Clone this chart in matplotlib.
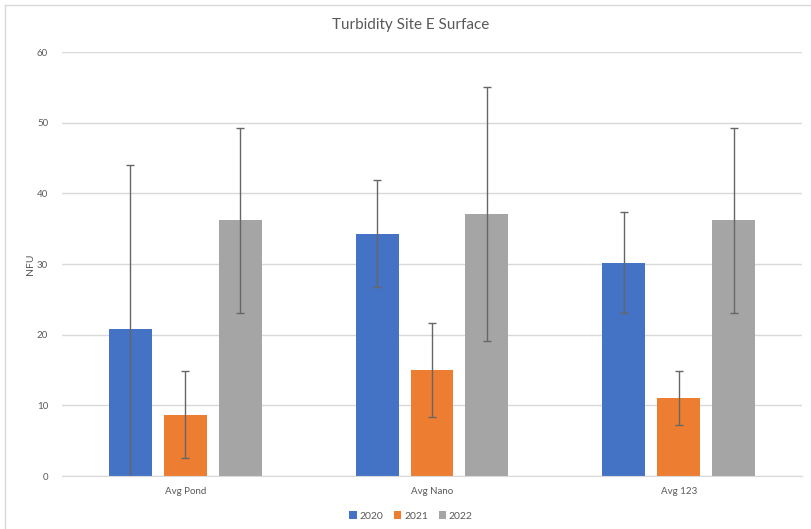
import matplotlib
matplotlib.use("Agg")
import matplotlib.pyplot as plt
import numpy as np
from matplotlib.lines import Line2D

categories = ["Avg Pond", "Avg Nano", "Avg 123"]
years = ["2020", "2021", "2022"]
values_2020 = [20.8, 34.3, 30.2]
values_2021 = [8.7, 15.0, 11.0]
values_2022 = [36.2, 37.1, 36.2]
err_2020 = [23.2, 7.55, 7.2]
err_2021 = [6.2, 6.7, 3.85]
err_2022 = [13.1, 17.95, 13.1]
colors = ["#4472C4", "#ED7D31", "#A5A5A5"]

plt.rcParams['font.family'] = ['Lato', 'DejaVu Sans']
txt = "#595959"

fig = plt.figure(figsize=(8.12, 5.29), dpi=100)
# light frame lines (left and top only visible in the reference)
fig.lines.append(Line2D([5/812, 5/812], [0, 1-5/529], transform=fig.transFigure,
                        color="#d9d9d9", lw=1))
fig.lines.append(Line2D([5/812, 1], [1-5/529, 1-5/529], transform=fig.transFigure,
                        color="#d9d9d9", lw=1))
ax = fig.add_axes([62/812, 1-476/529, 740/812, 424/529])

x = np.arange(len(categories))
w = 0.174
off = 0.2227
series = [values_2020, values_2021, values_2022]
errs = [err_2020, err_2021, err_2022]
for i, (vals, e, c, lab) in enumerate(zip(series, errs, colors, years)):
    ax.bar(x + (i-1)*off, vals, w, color=c, label=lab, zorder=2)
    ax.errorbar(x + (i-1)*off, vals, yerr=e, fmt='none', ecolor="#666666",
                elinewidth=1.0, capsize=2.6, capthick=1.0, zorder=3)

ax.set_xlim(-0.5, 2.5)
ax.set_ylim(0, 60)
ax.set_yticks(range(0, 61, 10))
ax.yaxis.grid(True, color="#d9d9d9", lw=1, zorder=0)
ax.set_axisbelow(True)
for s in ["top", "right", "left"]:
    ax.spines[s].set_visible(False)
ax.spines["bottom"].set_color("#d9d9d9")
ax.tick_params(axis='both', length=0, colors=txt, labelsize=7)
ax.tick_params(axis='y', pad=10)
ax.tick_params(axis='x', pad=8)
ax.set_xticks(x)
ax.set_xticklabels(categories)
ax.set_ylabel("NFU", color=txt, fontsize=7.5, labelpad=1)

fig.text(411/812, 1-25/529, "Turbidity Site E Surface", ha="center", va="center",
         fontsize=11, color=txt)

leg = fig.legend(loc="center", bbox_to_anchor=(411/812, 1-516/529), ncol=3, frameon=False,
                 fontsize=7.5, handlelength=0.7, handleheight=0.7, handletextpad=0.3,
                 columnspacing=1.0, labelcolor=txt)

fig.savefig("out.png", dpi=100)
